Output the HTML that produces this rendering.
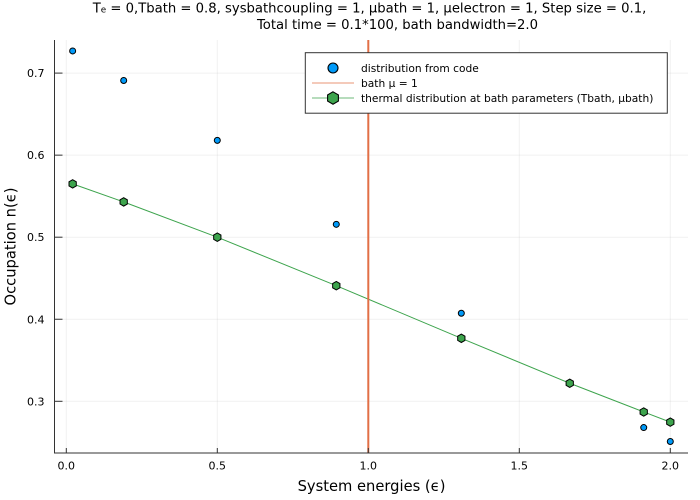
<!DOCTYPE html>
<html>
<head>
<meta charset="utf-8">
<style>
html,body{margin:0;padding:0;background:#fff;width:700px;height:500px;overflow:hidden}
svg{display:block;font-family:"DejaVu Sans","Liberation Sans",sans-serif}
</style>
</head>
<body>
<svg id="chart" xmlns="http://www.w3.org/2000/svg" width="700" height="500" viewBox="0 0 700 500">
<rect width="700" height="500" fill="#fff"/>
<g id="grid"></g>
<g id="marks"></g>
<g id="axes"></g>
<text x="369.5" y="12.5" font-size="13.2" text-anchor="middle" fill="#000">T<tspan font-size="8.8">e</tspan> = 0,Tbath = 0.8, sysbathcoupling = 1, µbath = 1, µelectron = 1, Step size = 0.1,</text>
<text x="397.5" y="29" font-size="13.2" text-anchor="middle" fill="#000">Total time = 0.1*100, bath bandwidth=2.0</text>
<text x="371.5" y="491" font-size="14.7" text-anchor="middle" fill="#000">System energies (ϵ)</text>
<text transform="translate(15.3,246.5) rotate(-90)" font-size="14.7" text-anchor="middle" fill="#000">Occupation n(ϵ)</text>
<g>
  <rect x="305.3" y="52.7" width="362" height="60.5" fill="#fff" stroke="#333" stroke-width="1"/>
  <circle cx="333" cy="68" r="5" fill="#009af9" stroke="#000" stroke-width="1.1"/>
  <text x="361" y="72" font-size="10.65" fill="#000">distribution from code</text>
  <line x1="312" x2="354" y1="83" y2="83" stroke="#e26f46" stroke-opacity="0.6" stroke-width="1.2"/>
  <text x="361" y="87" font-size="10.65" fill="#000">bath µ = 1</text>
  <line x1="312" x2="354" y1="98" y2="98" stroke="#3da44d" stroke-opacity="0.6" stroke-width="1.2"/>
  <polygon points="333,91.8 338.4,94.9 338.4,101.1 333,104.2 327.6,101.1 327.6,94.9" fill="#3da44d" stroke="#000" stroke-width="1.1"/>
  <text x="361" y="102" font-size="10.65" fill="#000">thermal distribution at bath parameters (Tbath, µbath)</text>
</g>
</svg>
<script>
const energies = [0.021, 0.19, 0.5, 0.894, 1.308, 1.667, 1.912, 2.0];
const codeValues = [0.727, 0.691, 0.618, 0.5157, 0.4073, 0.322, 0.268, 0.251];
const thermalValues = [0.565, 0.543, 0.5, 0.4409, 0.3768, 0.322, 0.287, 0.2746];
const bathMu = [1];
const xTicks = [0, 0.5, 1, 1.5, 2];
const xTickLabels = ['0.0', '0.5', '1.0', '1.5', '2.0'];
const yTicks = [0.3, 0.4, 0.5, 0.6, 0.7];
const yTickLabels = ['0.3', '0.4', '0.5', '0.6', '0.7'];

const NS = 'http://www.w3.org/2000/svg';
const plotLeft = 54.5, plotRight = 688, plotTop = 40, plotBottom = 453;
function xScale(v) { return 66.3 + v * 302; }
function yScale(v) { return 401.3 - (v - 0.3) * 820.5; }
function add(parent, tag, attrs, text) {
  const el = document.createElementNS(NS, tag);
  for (const k in attrs) el.setAttribute(k, attrs[k]);
  if (text !== undefined) el.textContent = text;
  parent.appendChild(el);
  return el;
}
const grid = document.getElementById('grid');
const marks = document.getElementById('marks');
const axes = document.getElementById('axes');

xTicks.forEach(function (t) {
  const g = add(grid, 'line', {x1: xScale(t), x2: xScale(t), y1: plotTop, y2: plotBottom, stroke: '#000', 'stroke-opacity': 0.055, 'stroke-width': 1});
  
  
});
yTicks.forEach(function (t) {
  const g = add(grid, 'line', {x1: plotLeft, x2: plotRight, y1: yScale(t), y2: yScale(t), stroke: '#000', 'stroke-opacity': 0.055, 'stroke-width': 1});
  
  
});

const thermalLine = add(marks, 'polyline', {
  points: energies.map(function (e, i) { return xScale(e) + ',' + yScale(thermalValues[i]); }).join(' '),
  fill: 'none', stroke: '#3da44d', 'stroke-width': 1
});



bathMu.forEach(function (m) {
  const l = add(marks, 'line', {x1: xScale(m), x2: xScale(m), y1: plotTop, y2: plotBottom, stroke: '#e26f46', 'stroke-width': 2});
  
  
});

energies.forEach(function (e, i) {
  const c = add(marks, 'circle', {cx: xScale(e), cy: yScale(codeValues[i]), r: 3, fill: '#009af9', stroke: '#000', 'stroke-width': 1});
  
  
});
energies.forEach(function (e, i) {
  const cx = xScale(e), cy = yScale(thermalValues[i]), r = 4.2;
  const pts = [];
  for (let k = 0; k < 6; k++) {
    const a = Math.PI / 6 + k * Math.PI / 3;
    pts.push((cx + r * Math.cos(a)).toFixed(2) + ',' + (cy + r * Math.sin(a)).toFixed(2));
  }
  const h = add(marks, 'polygon', {points: pts.join(' '), fill: '#3da44d', stroke: '#000', 'stroke-width': 1});
  
  
});

const xAxisLine = add(axes, 'line', {x1: plotLeft - 0.5, x2: plotRight, y1: plotBottom, y2: plotBottom, stroke: '#333', 'stroke-width': 1});


const yAxisLine = add(axes, 'line', {x1: plotLeft, x2: plotLeft, y1: plotTop, y2: plotBottom, stroke: '#333', 'stroke-width': 1});



xTicks.forEach(function (t, i) {
  const tick = add(axes, 'line', {x1: xScale(t), x2: xScale(t), y1: plotBottom, y2: plotBottom - 5, stroke: '#333', 'stroke-width': 1});
  
  
  const label = add(axes, 'text', {x: xScale(t), y: 469.3, 'font-size': 11, 'text-anchor': 'middle', fill: '#000'}, xTickLabels[i]);
  
  
});
yTicks.forEach(function (t, i) {
  const tick = add(axes, 'line', {x1: plotLeft, x2: plotLeft + 8, y1: yScale(t), y2: yScale(t), stroke: '#333', 'stroke-width': 1});
  
  
  const label = add(axes, 'text', {x: 44.5, y: yScale(t) + 4, 'font-size': 11, 'text-anchor': 'end', fill: '#000'}, yTickLabels[i]);
  
  
});
</script>
</body>
</html>
